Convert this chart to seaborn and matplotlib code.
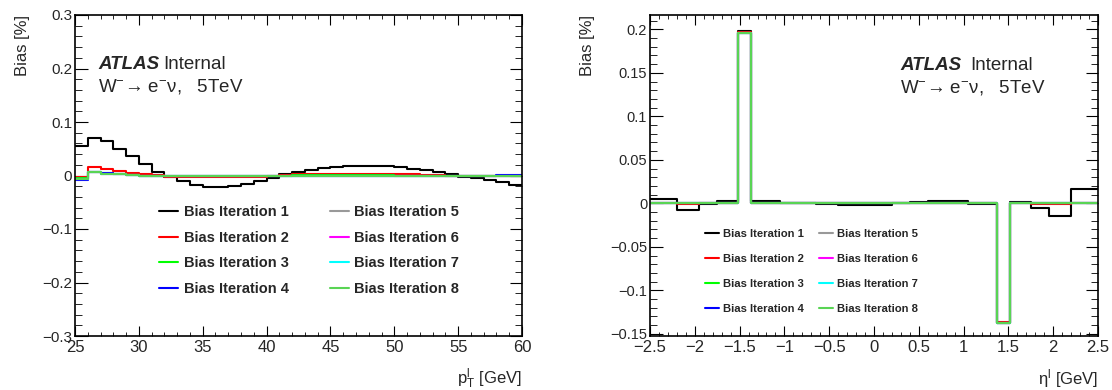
import numpy as np
import pandas as pd
import seaborn as sns
import matplotlib
matplotlib.use("Agg")
import matplotlib.pyplot as plt
from matplotlib.ticker import MultipleLocator, FuncFormatter

# binning of the two histograms
pt_edges = list(range(25, 61))
eta_edges = [-2.5, -2.2, -1.95, -1.75, -1.52, -1.37, -1.05, -0.65, -0.4, -0.2, 0.0,
             0.2, 0.4, 0.6, 0.8, 1.05, 1.37, 1.52, 1.75, 1.95, 2.2, 2.5]

labels = ["Bias Iteration %d" % i for i in range(1, 9)]
colors = ["#000000", "#ff0000", "#00ff00", "#0000ff",
          "#999999", "#ff00ff", "#00ffff", "#59d454"]

# bias [%] vs pT (1 GeV bins, 25-60)
pt_it1 = [0.055, 0.070, 0.065, 0.050, 0.036, 0.022, 0.007, -0.003, -0.011, -0.017,
          -0.021, -0.022, -0.020, -0.015, -0.011, -0.004, 0.003, 0.007, 0.011, 0.014,
          0.016, 0.0175, 0.018, 0.018, 0.0175, 0.016, 0.013, 0.010, 0.006, 0.002,
          -0.002, -0.005, -0.008, -0.012, -0.018]
pt_it2 = [-0.002, 0.015, 0.013, 0.009, 0.005, 0.003, 0.001, -0.002, -0.003, -0.003,
          -0.003, -0.003, -0.003, -0.003, -0.002, -0.001, 0.001, 0.002, 0.002, 0.002,
          0.002, 0.002, 0.002, 0.002, 0.002, 0.002, 0.002, 0.001, 0.001, 0.0,
          0.0, 0.0, 0.0, 0.0, 0.0]
pt_it3 = [-0.005, 0.007, 0.004, 0.002, 0.001, 0.0, 0.0, 0.0, -0.001, -0.001,
          -0.001, -0.001, -0.001, -0.001, 0.0, 0.0, 0.0, 0.001, 0.001, 0.001,
          0.001, 0.001, 0.001, 0.001, 0.001, 0.0, 0.0, 0.0, 0.0, 0.0,
          0.0, 0.0, 0.0, 0.0, 0.0]
pt_it4 = [-0.008, 0.006, 0.004, 0.002, 0.001, 0.0, 0.0, 0.0, 0.0, 0.0,
          0.0, 0.0, 0.0, 0.0, 0.0, 0.0, 0.0, 0.0, 0.0, 0.0,
          0.0, 0.0, 0.0, 0.0, 0.0, 0.0, 0.0, -0.001, -0.001, 0.0,
          0.0, 0.0, 0.0, 0.001, 0.001]
pt_it5 = [-0.006, 0.006, 0.003, 0.002, 0.001, 0.0, 0.0, 0.0, 0.0, 0.0,
          0.0, 0.0, 0.0, 0.0, 0.0, 0.0, 0.0, 0.0, 0.0, 0.0,
          0.0, 0.0, 0.0, 0.0, 0.0, 0.0, 0.0, 0.0, 0.0, 0.0,
          0.0, 0.0, 0.0, 0.0, 0.0]
pt_it6 = [-0.006, 0.006, 0.003, 0.002, 0.001, 0.0, 0.0, 0.0, 0.0, 0.0,
          0.0, 0.0, 0.0, 0.0, 0.0, 0.0, 0.0, 0.0, 0.0, 0.0,
          0.0, 0.0, 0.0, 0.0, 0.0, 0.0, 0.0, 0.0, 0.0, 0.0,
          0.0, 0.0, 0.0, 0.0, 0.0]
pt_it7 = [-0.006, 0.006, 0.003, 0.002, 0.001, 0.0, 0.0, 0.0, 0.0, 0.0,
          0.0, 0.0, 0.0, 0.0, 0.0, 0.0, 0.0, 0.0, 0.0, 0.0,
          0.0, 0.0, 0.0, 0.0, 0.0, 0.0, -0.001, -0.001, 0.0, 0.0,
          0.0, 0.0, 0.0, 0.0, 0.0]
pt_it8 = [-0.006, 0.006, 0.003, 0.002, 0.001, 0.0, 0.0, 0.0, 0.0, 0.0,
          0.0, 0.0, 0.0, 0.0, 0.0, 0.0, 0.0, 0.0, 0.0, 0.0,
          0.0, 0.0, 0.0, 0.0, 0.0, 0.0, 0.0, 0.0, 0.0, 0.0,
          0.0, 0.0, 0.0, 0.0, 0.0]

# bias [%] vs eta
eta_it1 = [0.005, -0.008, -0.001, 0.003, 0.198, 0.0025, 0.0, -0.001, -0.0017, -0.0017,
           -0.0015, 0.0, 0.0015, 0.0025, 0.003, -0.0007, -0.137, 0.0015, -0.005, -0.014,
           0.017]
eta_it2 = [0.0003, -0.0004, 0.0, 0.0002, 0.1965, 0.0002, 0.0, 0.0, -0.0001, -0.0001,
           -0.0001, 0.0, 0.0001, 0.0001, 0.0002, 0.0, -0.1368, 0.0001, -0.0003, -0.0007,
           0.0009]
eta_it3 = [0.0, 0.0, 0.0, 0.0, 0.1957, 0.0, 0.0, 0.0, 0.0, 0.0,
           0.0, 0.0, 0.0, 0.0, 0.0, 0.0, -0.1371, 0.0, 0.0, 0.0,
           0.0]
eta_it4 = [0.0, 0.0, 0.0, 0.0, 0.1956, 0.0, 0.0, 0.0, 0.0, 0.0,
           0.0, 0.0, 0.0, 0.0, 0.0, 0.0, -0.1372, 0.0, 0.0, 0.0,
           0.0]
eta_it5 = [0.0, 0.0, 0.0, 0.0, 0.1956, 0.0, 0.0, 0.0, 0.0, 0.0,
           0.0, 0.0, 0.0, 0.0, 0.0, 0.0, -0.1372, 0.0, 0.0, 0.0,
           0.0]
eta_it6 = [0.0, 0.0, 0.0, 0.0, 0.1955, 0.0, 0.0, 0.0, 0.0, 0.0,
           0.0, 0.0, 0.0, 0.0, 0.0, 0.0, -0.1372, 0.0, 0.0, 0.0,
           0.0]
eta_it7 = [0.0, 0.0, 0.0, 0.0, 0.1955, 0.0, 0.0, 0.0, 0.0, 0.0,
           0.0, 0.0, 0.0, 0.0, 0.0, 0.0, -0.1372, 0.0, 0.0, 0.0,
           0.0]
eta_it8 = [0.0, 0.0, 0.0, 0.0, 0.1955, 0.0, 0.0, 0.0, 0.0, 0.0,
           0.0, 0.0, 0.0, 0.0, 0.0, 0.0, -0.1372, 0.0, 0.0, 0.0,
           0.0]

pt_series = [pt_it1, pt_it2, pt_it3, pt_it4, pt_it5, pt_it6, pt_it7, pt_it8]
eta_series = [eta_it1, eta_it2, eta_it3, eta_it4, eta_it5, eta_it6, eta_it7, eta_it8]

sns.set_style("ticks")
plt.rcParams["font.family"] = ["Liberation Sans", "DejaVu Sans"]
plt.rcParams["mathtext.fontset"] = "custom"
plt.rcParams["mathtext.rm"] = "Liberation Sans"
plt.rcParams["mathtext.it"] = "Liberation Sans:italic"
plt.rcParams["mathtext.bf"] = "Liberation Sans:bold"

W, H = 1112, 390
fig = plt.figure(figsize=(W / 100, H / 100), dpi=100)


def px(x, y):
    return x / W, 1 - y / H


def tick_fmt(v, pos):
    v = round(v, 6)
    if v == 0:
        return "0"
    return ("%g" % v).replace("-", "\u2212")


def draw_panel(ax, edges, series):
    # ROOT-style step histogram: value of each bin held from its low edge,
    # last value repeated at the upper edge
    for lab, col, vals in zip(labels, colors, series):
        df = pd.DataFrame({"edge": list(edges), "bias": list(vals) + [vals[-1]]})
        sns.lineplot(data=df, x="edge", y="bias", drawstyle="steps-post",
                     estimator=None, sort=False, color=col, linewidth=1.5,
                     label=lab, ax=ax)


def style_axes(ax, xmaj, xmin, ymaj, ymin, xsize, ysize):
    ax.xaxis.set_major_locator(MultipleLocator(xmaj))
    ax.xaxis.set_minor_locator(MultipleLocator(xmin))
    ax.yaxis.set_major_locator(MultipleLocator(ymaj))
    ax.yaxis.set_minor_locator(MultipleLocator(ymin))
    ax.xaxis.set_major_formatter(FuncFormatter(tick_fmt))
    ax.yaxis.set_major_formatter(FuncFormatter(tick_fmt))
    ax.tick_params(which="both", direction="in", top=True, right=True, color="black")
    ax.tick_params(axis="x", which="major", length=7, labelsize=xsize, pad=3)
    ax.tick_params(axis="x", which="minor", length=3.2)
    ax.tick_params(axis="y", which="major", length=9, labelsize=ysize, pad=2)
    ax.tick_params(axis="y", which="minor", length=5)
    for s in ax.spines.values():
        s.set_linewidth(1.2)
        s.set_color("black")


# ---- left: pT ----
ax1 = fig.add_axes([75 / W, 54 / H, 447 / W, 321 / H])
draw_panel(ax1, pt_edges, pt_series)
ax1.set_xlim(25, 60)
ax1.set_ylim(-0.3, 0.3)
style_axes(ax1, 5, 1, 0.1, 0.02, 12, 11)
ax1.set_xlabel(r"p$_{\mathrm{T}}^{\mathrm{l}}$ [GeV]", fontsize=12, loc="right")
ax1.xaxis.set_label_coords(1.0, -0.096)
ax1.set_ylabel("Bias [%]", fontsize=12, loc="top")
ax1.yaxis.set_label_coords(-0.1, 1.0)
ax1.legend(loc="upper left", bbox_to_anchor=px(159, 205.5), bbox_transform=fig.transFigure,
           ncol=2, frameon=False, prop={"weight": "bold", "size": 10.5},
           handlelength=1.3, handletextpad=0.4, columnspacing=2.8, labelspacing=0.78,
           borderpad=0, borderaxespad=0)

fig.text(*px(98, 68.6), "ATLAS", fontsize=13.5, fontweight="bold", fontstyle="italic")
fig.text(*px(163, 68.6), "Internal", fontsize=13.5)
fig.text(*px(98, 91.2), "W$^{-}$\u2192 e$^{-}$\u03bd,   5TeV", fontsize=13.5)

# ---- right: eta ----
ax2 = fig.add_axes([650 / W, 54 / H, 448 / W, 321 / H])
draw_panel(ax2, eta_edges, eta_series)
ax2.set_xlim(-2.5, 2.5)
ax2.set_ylim(-0.1525, 0.2165)
style_axes(ax2, 0.5, 0.1, 0.05, 0.01, 12, 10.5)
ax2.set_xlabel(r"$\mathrm{\eta}^{\mathrm{l}}$ [GeV]", fontsize=12, loc="right")
ax2.xaxis.set_label_coords(1.0, -0.096)
ax2.set_ylabel("Bias [%]", fontsize=12, loc="top")
ax2.yaxis.set_label_coords(-0.123, 1.0)
ax2.legend(loc="upper left", bbox_to_anchor=px(705, 229), bbox_transform=fig.transFigure,
           ncol=2, frameon=False, prop={"weight": "bold", "size": 8.1},
           handlelength=1.2, handletextpad=0.36, columnspacing=1.4, labelspacing=1.32,
           borderpad=0, borderaxespad=0)

fig.text(*px(900, 69.6), "ATLAS", fontsize=13.5, fontweight="bold", fontstyle="italic")
fig.text(*px(970, 69.6), "Internal", fontsize=13.5)
fig.text(*px(900, 92.6), "W$^{-}$\u2192 e$^{-}$\u03bd,   5TeV", fontsize=13.5)

fig.savefig("out.png", dpi=100)
